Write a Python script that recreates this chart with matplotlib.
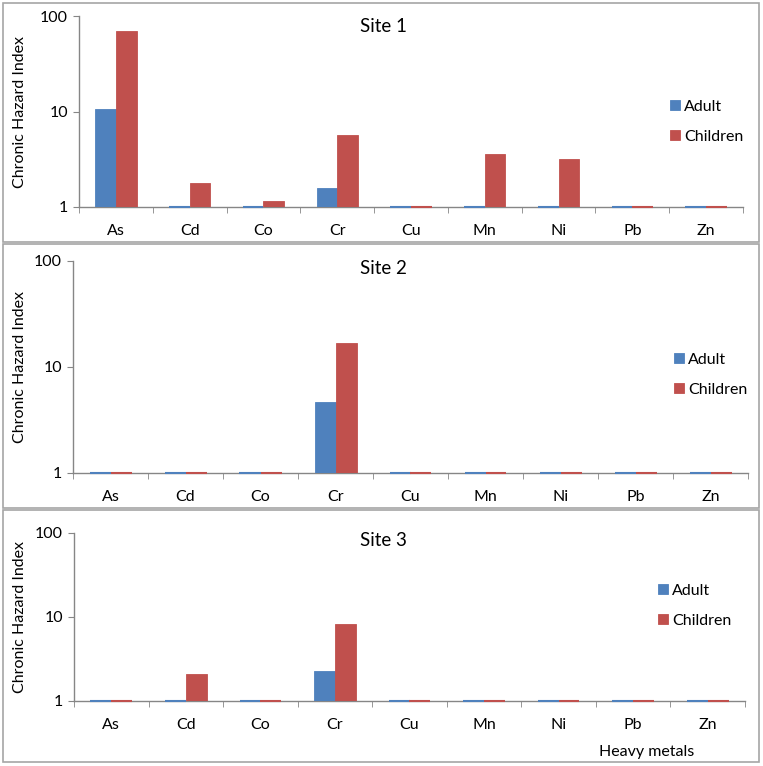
import numpy as np
import matplotlib
matplotlib.use("Agg")
import matplotlib.pyplot as plt
from matplotlib.patches import Rectangle

# values; anything under 1 sits below the axis floor
metals = ["As", "Cd", "Co", "Cr", "Cu", "Mn", "Ni", "Pb", "Zn"]
sites = ["Site 1", "Site 2", "Site 3"]

adult_site1 = [10.5, 0.5, 0.5, 1.6, 0.5, 0.5, 0.5, 0.5, 0.5]
children_site1 = [70.0, 1.8, 1.15, 5.7, 0.5, 3.6, 3.2, 0.5, 0.5]
adult_site2 = [0.5, 0.5, 0.5, 4.7, 0.5, 0.5, 0.5, 0.5, 0.5]
children_site2 = [0.5, 0.5, 0.5, 17.0, 0.5, 0.5, 0.5, 0.5, 0.5]
adult_site3 = [0.5, 0.5, 0.5, 2.3, 0.5, 0.5, 0.5, 0.5, 0.5]
children_site3 = [0.5, 2.1, 0.5, 8.2, 0.5, 0.5, 0.5, 0.5, 0.5]

series_labels = ["Adult", "Children"]
y_ticks = [1, 10, 100]

BLUE = "#4F81BD"
RED = "#C0504D"
GRAY = "#868686"

W, H = 763, 766
plt.rcParams['font.family'] = ['Lato', 'DejaVu Sans']

fig = plt.figure(figsize=(W / 100, H / 100), dpi=100)


def px_box(l, t, r, b):
    return [l / W, 1 - b / H, (r - l) / W, (b - t) / H]


# panel frames (pixels: left, top, right, bottom)
frames = [(3, 3, 759, 242), (3, 244, 759, 508), (3, 510, 759, 762)]
for l, t, r, b in frames:
    fig.patches.append(Rectangle((l / W, 1 - b / H), (r - l) / W, (b - t) / H,
                                 transform=fig.transFigure, fill=False,
                                 edgecolor="#A6A6A6", linewidth=1.2))

axes_px = [(79, 16, 743, 207), (73, 261, 748, 473), (74, 533, 745, 701)]
title_px = [(383, 27), (383, 268), (383, 541)]
legend_px = [(670, 100), (674, 353), (658, 584)]

data = [(adult_site1, children_site1), (adult_site2, children_site2),
        (adult_site3, children_site3)]

x = np.arange(len(metals))
bw = 0.28
FS = 11.5

for i, (adult, children) in enumerate(data):
    l, t, r, b = axes_px[i]
    ax = fig.add_axes(px_box(l, t, r, b))
    ax.set_yscale("log")
    for vals, off, col, lab in [(adult, -bw / 2, BLUE, series_labels[0]),
                                (children, bw / 2, RED, series_labels[1])]:
        v = np.array(vals)
        ax.bar(x + off, v - 1, bottom=1, width=bw, color=col,
               edgecolor=col, linewidth=0.6, label=lab, zorder=3)
        # values under 1 only show as a thin line on the axis
        low = v < 1
        ax.hlines(np.ones(low.sum()), x[low] + off - bw / 2, x[low] + off + bw / 2,
                  color=col, linewidth=1.5, zorder=4, clip_on=False)
    ax.set_ylim(1, 100)
    ax.set_xlim(-0.5, len(metals) - 0.5)
    ax.set_yticks(y_ticks)
    ax.set_yticklabels([str(t) for t in y_ticks])
    ax.yaxis.set_minor_locator(matplotlib.ticker.NullLocator())
    ax.set_xticks(x)
    ax.set_xticklabels(metals)
    ax.set_xticks(np.arange(-0.5, len(metals)), minor=True)
    ax.tick_params(axis="x", which="major", length=0, pad=12, labelsize=FS)
    ax.tick_params(axis="x", which="minor", length=4, direction="out", color=GRAY)
    ax.tick_params(axis="y", length=4, direction="out", color=GRAY, labelsize=FS, pad=4)
    for s in ["top", "right"]:
        ax.spines[s].set_visible(False)
    for s in ["left", "bottom"]:
        ax.spines[s].set_color(GRAY)
        ax.spines[s].set_linewidth(1.0)
    ax.set_ylabel("Chronic Hazard Index", fontsize=FS)
    ax.yaxis.set_label_coords((27 - l) / (r - l), 0.5)
    fig.text(title_px[i][0] / W, 1 - title_px[i][1] / H, sites[i],
             ha="center", va="center", fontsize=13.5)
    ax.legend(loc="upper left", frameon=False, fontsize=FS,
              bbox_to_anchor=(legend_px[i][0] / W, 1 - legend_px[i][1] / H),
              bbox_transform=fig.transFigure, handlelength=0.6,
              handleheight=0.6, handletextpad=0.3, labelspacing=1.0,
              borderpad=0, borderaxespad=0)

fig.text(647 / W, 1 - 752 / H, "Heavy metals", ha="center", va="center", fontsize=FS)

fig.savefig("out.png", dpi=100)
